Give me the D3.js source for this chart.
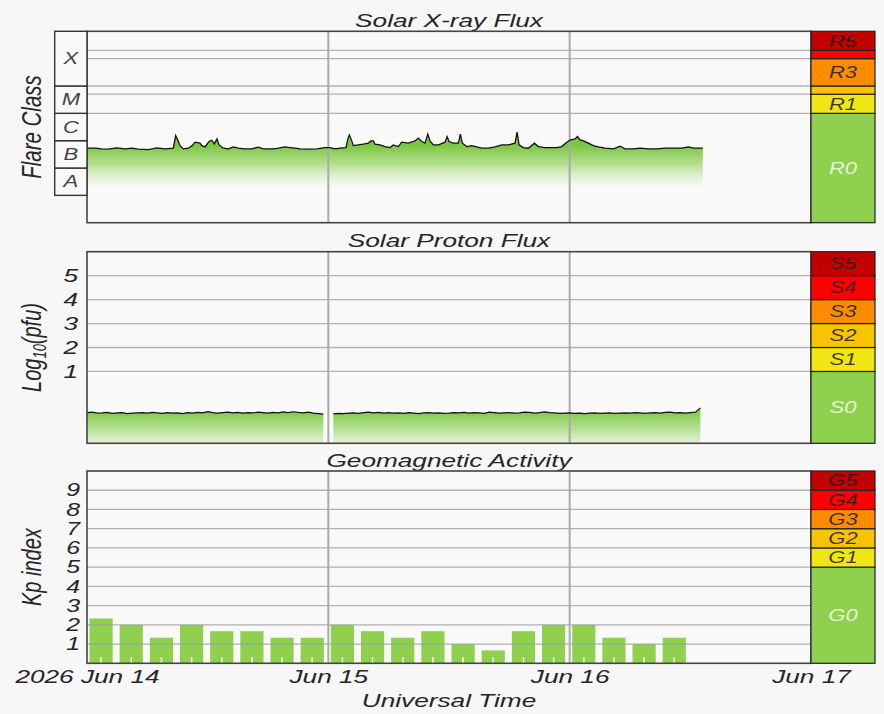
<!DOCTYPE html>
<html>
<head>
<meta charset="utf-8">
<script src="https://cdn.jsdelivr.net/npm/d3@7"></script>
<style>
body { margin: 0; background: #f7f7f7; }
svg { display: block; font-family: "Liberation Sans", Arial, sans-serif; font-style: italic; }
</style>
</head>
<body>
<svg id="chart" width="884" height="714"></svg>
<script>

///////  Data ///////

// X-ray flux, hours after 2026 Jun 14 00:00 UTC, flux in units of 1e-7 W/m2 (B1 = 1)
var xrayHours = [0, 0.8, 1.46, 2.12, 2.95, 3.78, 4.45, 5.1, 6.1, 6.6, 6.93, 7.76, 8.58, 8.82, 9.02, 9.25, 9.58,
    10.08, 10.47, 10.74, 11.24, 11.41, 11.74, 12.13, 12.4, 12.66, 12.93, 13.13, 13.56, 14.05, 14.55, 15.05, 15.71,
    16.38, 17.04, 17.53, 18.53, 19.03, 19.69, 20.19, 20.69, 21.18, 22.01, 22.85, 23.67, 24.17, 24.67, 25.16, 25.76,
    25.96, 26.09, 26.29, 26.49, 26.98, 27.48, 27.98, 28.22, 28.48, 28.64, 29.14, 29.64, 30.14, 30.46, 30.96, 31.3,
    31.96, 32.62, 32.95, 33.29, 33.62, 33.89, 34.11, 34.44, 34.94, 35.61, 35.81, 36.0, 36.43, 36.93, 37.13, 37.33,
    37.77, 38.26, 38.76, 39.26, 39.91, 40.58, 41.25, 41.9, 42.57, 42.77, 42.97, 43.39, 43.89, 44.49, 44.89, 45.55,
    46.05, 46.72, 47.21, 47.71, 48.11, 48.54, 48.77, 49.03, 49.36, 49.86, 50.36, 50.86, 51.52, 52.35, 53.01, 53.51,
    54.34, 55.0, 55.83, 56.66, 57.49, 58.31, 59.15, 59.81, 60.3, 61.24];
var xrayFlux = [5.3, 5.3, 5.0, 4.9, 5.45, 5.0, 5.3, 4.9, 4.7, 5.1, 5.45, 5.0, 5.3, 15.4, 10.7, 6.6, 5.0,
    5.3, 6.6, 8.8, 8.1, 6.6, 5.9, 9.3, 10.4, 7.6, 11.6, 7.0, 5.3, 5.0, 5.9, 5.3, 5.0,
    5.0, 5.8, 5.0, 5.0, 5.3, 5.9, 5.6, 5.3, 5.0, 4.9, 5.0, 5.6, 5.6, 5.0, 5.3, 5.6,
    12.4, 16.3, 10.7, 6.6, 7.0, 7.45, 8.1, 9.8, 9.8, 7.45, 7.0, 6.1, 5.6, 7.0, 6.1, 8.8,
    8.1, 9.8, 12.4, 9.3, 8.1, 17.3, 9.8, 7.0, 7.0, 8.8, 14.1, 9.3, 8.1, 8.1, 17.3, 8.1,
    6.1, 6.6, 5.9, 5.3, 5.3, 5.9, 7.0, 7.0, 8.1, 20.5, 7.0, 5.6, 5.3, 8.1, 6.1, 5.6,
    5.6, 5.6, 6.1, 8.8, 10.7, 11.6, 14.1, 10.7, 9.8, 8.1, 6.6, 5.9, 5.3, 5.0, 6.3, 5.0,
    5.0, 5.3, 5.0, 5.0, 5.3, 5.3, 5.3, 5.9, 5.3, 5.3];

// Proton flux, log10(pfu), every 30 min from Jun 14 00:00 (null = no data)
var protonLog = [-0.72, -0.70, -0.74, -0.73, -0.71, -0.75, -0.73, -0.72, -0.76, -0.74, -0.73, -0.72,
    -0.74, -0.71, -0.73, -0.75, -0.72, -0.74, -0.73, -0.76, -0.72, -0.74, -0.71, -0.73,
    -0.68, -0.72, -0.74, -0.72, -0.70, -0.73, -0.71, -0.74, -0.72, -0.73, -0.70, -0.72,
    -0.74, -0.71, -0.73, -0.69, -0.72, -0.68, -0.71, -0.73, -0.70, -0.74, -0.76, -0.78,
    null,
    -0.77, -0.75, -0.76, -0.74, -0.73, -0.75, -0.72, -0.70, -0.73, -0.71, -0.74,
    -0.72, -0.74, -0.73, -0.75, -0.72, -0.74, -0.76, -0.73, -0.72, -0.74, -0.73, -0.75,
    -0.74, -0.72, -0.73, -0.71, -0.74, -0.72, -0.73, -0.75, -0.70, -0.72, -0.74, -0.73,
    -0.72, -0.74, -0.73, -0.70, -0.71, -0.74, -0.72, -0.69, -0.72, -0.73, -0.75, -0.74,
    -0.73, -0.75, -0.74, -0.76, -0.74, -0.73, -0.75, -0.74, -0.73, -0.75, -0.74, -0.73,
    -0.74, -0.72, -0.73, -0.75, -0.73, -0.72, -0.74, -0.71, -0.70, -0.73, -0.72, -0.74,
    -0.72, -0.70, -0.52];

// Planetary Kp, 3-hour intervals from Jun 14 00:00
var kpValues = [2.33, 2, 1.33, 2, 1.67, 1.67, 1.33, 1.33,
    2, 1.67, 1.33, 1.67, 1, 0.67, 1.67, 2,
    2, 1.33, 1, 1.33];

// NOAA scale levels
var rNames = ["R0", "R1", "R2", "R3", "R4", "R5"];
var rBounds = [1e-9, 1e-5, 5e-5, 1e-4, 1e-3, 2e-3, 1e-2];
var sNames = ["S0", "S1", "S2", "S3", "S4", "S5"];
var sBounds = [-2, 1, 2, 3, 4, 5, 6];
var gNames = ["G0", "G1", "G2", "G3", "G4", "G5"];
var gBounds = [0, 5, 6, 7, 8, 9, 10];
var levelColors = ["#8fd14f", "#f0e614", "#f8c400", "#fb8c00", "#ff0000", "#c20000"];

var flareClasses = ["A", "B", "C", "M", "X"];
var flareBounds = [1e-8, 1e-7, 1e-6, 1e-5, 1e-4, 1e-2];

var protonTicks = [1, 2, 3, 4, 5];
var kpTicks = [1, 2, 3, 4, 5, 6, 7, 8, 9];

///////  Layout ///////

var svg = d3.select("#chart");
var SX = 1.38;  // text in the picture is stretched sideways
var ink = "#262626";
var left = 87, right = 811, barRight = 875;
var t0 = new Date(Date.UTC(2026, 5, 14));
var t3 = new Date(Date.UTC(2026, 5, 17));
function hr(h) { return new Date(t0.getTime() + h * 3600e3); }

var x = d3.scaleUtc().domain([t0, t3]).range([left, right]);

var defs = svg.append("defs");

function grad(id, y1, y2, endOpacity) {
    var g = defs.append("linearGradient").attr("id", id)
        .attr("gradientUnits", "userSpaceOnUse")
        .attr("x1", 0).attr("x2", 0).attr("y1", y1).attr("y2", y2);
    g.append("stop").attr("offset", 0).attr("stop-color", "#7cc742").attr("stop-opacity", 1);
    g.append("stop").attr("offset", 0.45).attr("stop-color", "#98d566").attr("stop-opacity", 0.7);
    g.append("stop").attr("offset", 1).attr("stop-color", "#c8eab0").attr("stop-opacity", endOpacity);
}

function label(g, px, py, str, size, anchor, rot) {
    return g.append("text")
        .attr("transform", "translate(" + px + "," + py + ") scale(" + SX + ",1)" + (rot ? " rotate(-90)" : ""))
        .attr("font-size", size)
        .attr("text-anchor", anchor || "middle")
        .attr("fill", ink)
        .text(str);
}

function panelBase(top, bottom, title) {
    svg.append("rect").attr("x", left).attr("y", top)
        .attr("width", right - left).attr("height", bottom - top)
        .attr("fill", "#f9f9f9");
    label(svg, (left + right) / 2, top - 4.5, title, 19);
}

function hGrid(y, values) {
    svg.append("g").selectAll("line").data(values).enter().append("line")
        .attr("x1", left).attr("x2", right)
        .attr("y1", function(d) { return y(d); })
        .attr("y2", function(d) { return y(d); })
        .attr("stroke", "#999").attr("stroke-opacity", 0.75).attr("stroke-width", 1.3);
}

function vGrid(top, bottom) {
    svg.append("g").selectAll("line").data([hr(24), hr(48)]).enter().append("line")
        .attr("x1", function(d) { return x(d); })
        .attr("x2", function(d) { return x(d); })
        .attr("y1", top).attr("y2", bottom)
        .attr("stroke", "#aaa").attr("stroke-width", 2);
}

function frame(top, bottom) {
    svg.append("rect").attr("x", left).attr("y", top)
        .attr("width", right - left).attr("height", bottom - top)
        .attr("fill", "none").attr("stroke", "#444").attr("stroke-width", 1.6);
}

function levelBar(y, bounds, names) {
    var g = svg.append("g");
    for (var i = 0; i < names.length; i++) {
        var y0 = y(bounds[i]), y1 = y(bounds[i + 1]);
        g.append("rect").attr("x", right).attr("y", y1)
            .attr("width", barRight - right).attr("height", y0 - y1)
            .attr("fill", levelColors[i]).attr("stroke", "#222").attr("stroke-width", 1.2);
        if (y0 - y1 > 14) {
            label(g, (right + barRight) / 2, (y0 + y1) / 2 + 5.8, names[i], 16)
                .attr("fill", i == 0 ? "#eef7e6" : "#1a1a1a")
                .attr("fill-opacity", i == 0 ? 0.95 : 0.85);
        }
    }
}

///////  Solar X-ray Flux ///////

var xTop = 31.3, xBot = 222.7;
var yX = d3.scaleLog().domain([1e-9, 1e-2]).range([xBot, xTop]);
var xrayData = xrayHours.map(function(h, i) { return { t: hr(h), v: xrayFlux[i] * 1e-7 }; });

grad("xrayFill", 146, 188, 0);
panelBase(xTop, xBot, "Solar X-ray Flux");

svg.append("path").datum(xrayData)
    .attr("fill", "url(#xrayFill)")
    .attr("d", d3.area().x(function(d) { return x(d.t); }).y0(xBot).y1(function(d) { return yX(d.v); }));

hGrid(yX, rBounds.slice(1, 6));
vGrid(xTop, xBot);

svg.append("path").datum(xrayData)
    .attr("fill", "none").attr("stroke", "#111").attr("stroke-width", 1.3)
    .attr("d", d3.line().x(function(d) { return x(d.t); }).y(function(d) { return yX(d.v); }));

frame(xTop, xBot);

// flare class box
var fbox = svg.append("g");
for (var i = 0; i < flareClasses.length; i++) {
    var fy0 = yX(flareBounds[i]), fy1 = i == flareClasses.length - 1 ? xTop : yX(flareBounds[i + 1]);
    fbox.append("rect").attr("x", 54.7).attr("y", fy1)
        .attr("width", left - 54.7).attr("height", fy0 - fy1)
        .attr("fill", "#f9f9f9").attr("stroke", "#333").attr("stroke-width", 1.4);
    label(fbox, (54.7 + left) / 2, (fy0 + fy1) / 2 + 5.8, flareClasses[i], 16).attr("fill", "#444");
}

label(svg, 40.5, (xTop + xBot) / 2, "Flare Class", 20.5, "middle", true);
levelBar(yX, rBounds, rNames);

///////  Solar Proton Flux ///////

var pTop = 251.7, pBot = 443.3;
var yP = d3.scaleLinear().domain([-2, 6]).range([pBot, pTop]);
var protonData = protonLog.map(function(v, i) { return { t: hr(i * 0.5), v: v }; });

grad("protonFill", 410, 452, 0.12);
panelBase(pTop, pBot, "Solar Proton Flux");

svg.append("path").datum(protonData)
    .attr("fill", "url(#protonFill)")
    .attr("d", d3.area().defined(function(d) { return d.v != null; })
        .x(function(d) { return x(d.t); }).y0(pBot).y1(function(d) { return yP(d.v); }));

hGrid(yP, protonTicks);
vGrid(pTop, pBot);

svg.append("path").datum(protonData)
    .attr("fill", "none").attr("stroke", "#111").attr("stroke-width", 1.1)
    .attr("d", d3.line().defined(function(d) { return d.v != null; })
        .x(function(d) { return x(d.t); }).y(function(d) { return yP(d.v); }));

frame(pTop, pBot);

var pAxis = svg.append("g").attr("transform", "translate(" + left + ",0)")
    .call(d3.axisLeft(yP).tickValues(protonTicks).tickSize(0).tickFormat(d3.format("d")));
pAxis.select(".domain").remove();
pAxis.attr("font-family", null).attr("font-size", 19);
pAxis.selectAll(".tick text").attr("x", null).attr("fill", ink)
    .attr("transform", "translate(-9,0) scale(" + SX + ",1)");

var plab = svg.append("text")
    .attr("transform", "translate(40.5," + ((pTop + pBot) / 2) + ") scale(" + SX + ",1) rotate(-90)")
    .attr("font-size", 20).attr("text-anchor", "middle").attr("fill", ink);
plab.append("tspan").text("Log");
plab.append("tspan").attr("font-size", 13).attr("dy", 4).text("10");
plab.append("tspan").attr("dy", -4).text("(pfu)");

levelBar(yP, sBounds, sNames);

///////  Geomagnetic Activity ///////

var gTop = 471, gBot = 663.3;
var yK = d3.scaleLinear().domain([0, 10]).range([gBot, gTop]);

panelBase(gTop, gBot, "Geomagnetic Activity");

var bars = svg.append("g").selectAll("g").data(kpValues).enter().append("g");
bars.append("rect")
    .attr("x", function(d, i) { return x(hr(i * 3)) + 2.5; })
    .attr("width", function(d, i) { return x(hr(i * 3 + 3)) - x(hr(i * 3)) - 7; })
    .attr("y", function(d) { return yK(d); })
    .attr("height", function(d) { return gBot - yK(d); })
    .attr("fill", "#8fd14f");
bars.append("line")
    .attr("x1", function(d, i) { return x(hr(i * 3 + 1.5)) - 1; })
    .attr("x2", function(d, i) { return x(hr(i * 3 + 1.5)) - 1; })
    .attr("y1", gBot - 6).attr("y2", gBot)
    .attr("stroke", "#fff").attr("stroke-width", 1.5);

hGrid(yK, kpTicks);
vGrid(gTop, gBot);
frame(gTop, gBot);

var kAxis = svg.append("g").attr("transform", "translate(" + left + ",0)")
    .call(d3.axisLeft(yK).tickValues(kpTicks).tickSize(0).tickFormat(d3.format("d")));
kAxis.select(".domain").remove();
kAxis.attr("font-family", null).attr("font-size", 18);
kAxis.selectAll(".tick text").attr("x", null).attr("fill", ink)
    .attr("transform", "translate(-7,0) scale(" + SX + ",1)");

label(svg, 40.5, (gTop + gBot) / 2, "Kp index", 20, "middle", true);
levelBar(yK, gBounds, gNames);

///////  Time axis ///////

var tAxis = svg.append("g").attr("transform", "translate(0," + gBot + ")")
    .call(d3.axisBottom(x).tickValues([t0, hr(24), hr(48), t3]).tickSize(0)
        .tickFormat(function(d, i) { return i == 0 ? "2026 Jun 14" : d3.utcFormat("%b %d")(d); }));
tAxis.select(".domain").remove();
tAxis.attr("font-family", null).attr("font-size", 19);
tAxis.selectAll(".tick text").attr("y", null).attr("dy", null).attr("fill", ink)
    .attr("transform", "translate(0,20) scale(" + SX + ",1)");

label(svg, (left + right) / 2, 706.5, "Universal Time", 19);

</script>
</body>
</html>
